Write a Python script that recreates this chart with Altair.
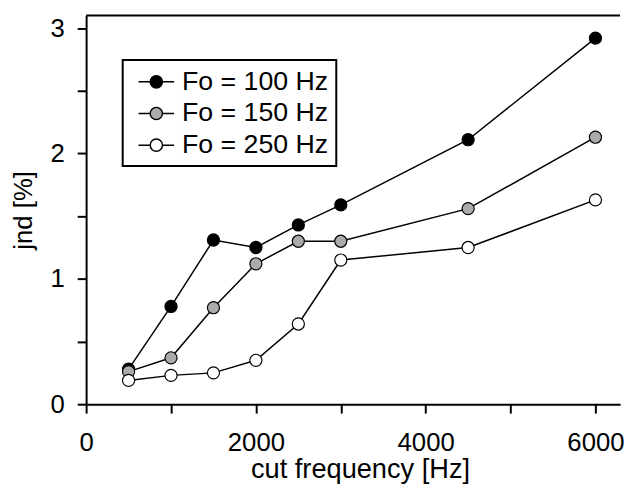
import altair as alt
import pandas as pd

# ---- data ----
freq = [500, 1000, 1500, 2000, 2500, 3000, 4500, 6000]
fo100 = [0.28, 0.78, 1.31, 1.25, 1.43, 1.59, 2.11, 2.92]
fo150 = [0.26, 0.37, 0.77, 1.12, 1.30, 1.30, 1.56, 2.13]
fo250 = [0.19, 0.23, 0.25, 0.35, 0.64, 1.15, 1.25, 1.63]
series_names = ["Fo = 100 Hz", "Fo = 150 Hz", "Fo = 250 Hz"]
series_fill = ["#000000", "#ababab", "#ffffff"]
x_ticks = [0, 1000, 2000, 3000, 4000, 5000, 6000]
y_ticks = [0, 0.5, 1, 1.5, 2, 2.5, 3]

rows = []
for name, vals in zip(series_names, [fo100, fo150, fo250]):
    for f, v in zip(freq, vals):
        rows.append({"freq": f, "jnd": v, "series": name})
df = pd.DataFrame(rows)

W, H = 540, 393
FONT = "Liberation Sans"

x = alt.X(
    "freq:Q",
    scale=alt.Scale(domain=[0, 6290], nice=False, zero=False),
    axis=alt.Axis(
        values=x_ticks,
        labelExpr="datum.value % 2000 == 0 ? format(datum.value, 'd') : ''",
        labelFlush=False,
        title="cut frequency [Hz]",
        titleX=277,
        labelPadding=17,
        titlePadding=0,
        titleFontSize=27.5,
    ),
)
y = alt.Y(
    "jnd:Q",
    scale=alt.Scale(domain=[0, 3.1], nice=False),
    axis=alt.Axis(
        values=y_ticks,
        labelExpr="datum.value % 1 == 0 ? format(datum.value, 'd') : ''",
        labelFlush=False,
        title="jnd [%]",
        labelPadding=13,
        titlePadding=14,
    ),
)

# legend symbol: short line - circle - short line
legend_symbol = (
    "M-1.385,0L-0.477,0M0.477,0L1.385,0"
    "M-0.477,0A0.477,0.477,0,1,1,0.477,0A0.477,0.477,0,1,1,-0.477,0Z"
)

lines = alt.Chart(df).mark_line(color="black", strokeWidth=1.5).encode(
    x=x, y=y, detail="series:N"
)
points = alt.Chart(df).mark_point(
    filled=True, size=150, stroke="black", strokeWidth=1.2, opacity=1
).encode(
    x=x,
    y=y,
    fill=alt.Fill(
        "series:N",
        scale=alt.Scale(domain=series_names, range=series_fill),
        legend=alt.Legend(
            orient="none",
            legendX=37,
            legendY=45,
            title=None,
            symbolType=legend_symbol,
            symbolSize=676,
            symbolStrokeColor="black",
            symbolStrokeWidth=1.5,
            symbolOffset=12,
            labelFont=FONT,
            labelFontSize=27,
            labelColor="black",
            labelOffset=12,
            labelLimit=400,
            labelExpr="datum.label + '\u2002'",
            rowPadding=5,
            padding=8,
            strokeColor="black",
            fillColor="white",
        ),
    ),
)
top_rule = alt.Chart(pd.DataFrame({"a": [0]})).mark_rule(
    color="black", strokeWidth=2
).encode(x=alt.value(0), x2=alt.value(W), y=alt.value(0))

chart = (
    alt.layer(lines, points, top_rule)
    .properties(
        width=W,
        height=H,
        autosize=alt.AutoSizeParams(type="none"),
        padding={"left": 79, "top": 5, "right": 6, "bottom": 78},
    )
    .configure_view(stroke=None)
    .configure_legend(strokeWidth=2)
    .configure_axis(
        grid=False,
        domainColor="black",
        domainWidth=2,
        tickColor="black",
        tickWidth=2,
        tickSize=9,
        labelFont=FONT,
        labelFontSize=26,
        labelColor="black",
        titleFont=FONT,
        titleFontSize=26,
        titleFontWeight="normal",
        titleColor="black",
    )
)

chart.save("out.html", embed_options={"renderer": "svg", "actions": False})
